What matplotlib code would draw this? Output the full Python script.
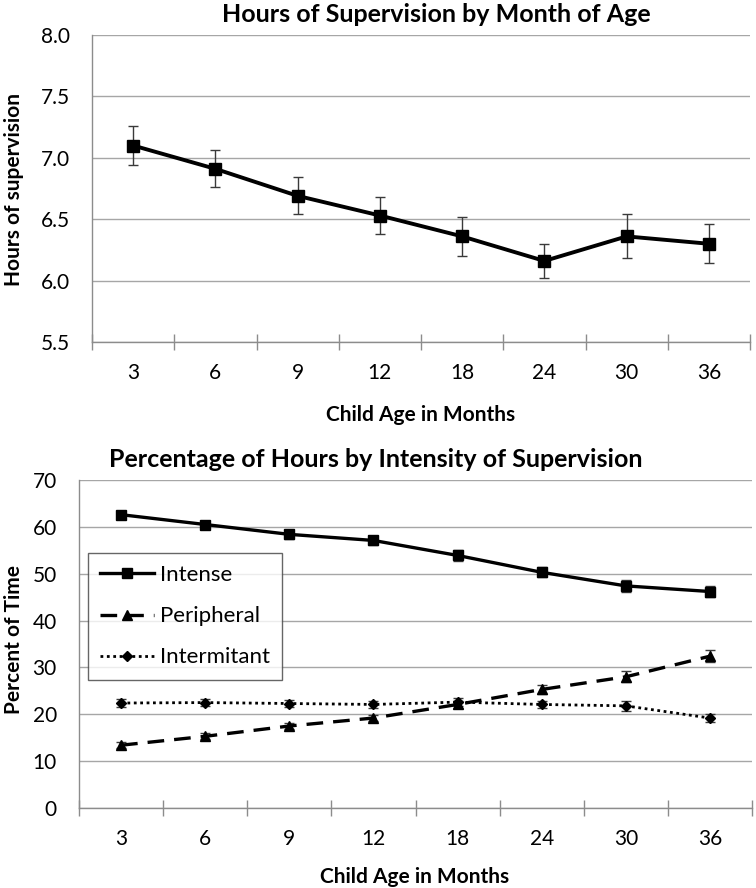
import matplotlib
matplotlib.use("Agg")
import matplotlib.pyplot as plt
from matplotlib.ticker import FixedLocator, NullFormatter
import numpy as np

plt.rcParams['font.family'] = ['Lato', 'DejaVu Sans']

ages = ["3", "6", "9", "12", "18", "24", "30", "36"]

# top panel: hours of supervision
hours = [7.10, 6.91, 6.69, 6.53, 6.36, 6.16, 6.36, 6.30]
hours_err = [0.16, 0.15, 0.15, 0.15, 0.16, 0.14, 0.18, 0.16]

# bottom panel: percent of time by intensity
intense = [62.6, 60.5, 58.4, 57.1, 53.9, 50.3, 47.4, 46.2]
intense_err = [0.8, 0.8, 1.0, 0.9, 1.1, 1.1, 1.2, 1.2]
peripheral = [13.4, 15.3, 17.5, 19.2, 22.1, 25.3, 28.0, 32.4]
peripheral_err = [0.6, 0.6, 0.7, 0.7, 0.8, 1.0, 1.2, 1.3]
intermitant = [22.4, 22.5, 22.3, 22.1, 22.6, 22.1, 21.8, 19.2]
intermitant_err = [0.8, 0.8, 0.8, 0.8, 0.9, 0.8, 1.0, 0.8]

axis_grey = '#8c8c8c'
grid_grey = '#a6a6a6'
err_grey = '#3a3a3a'

W, H = 756, 888


def style_axes(ax, ymin, ymax, ystep, fmt):
    x = np.arange(len(ages))
    ax.set_xlim(-0.5, len(ages) - 0.5)
    ax.set_ylim(ymin, ymax)
    ax.set_xticks(x)
    ax.set_xticklabels(ages, fontsize=15)
    ax.tick_params(axis='x', which='major', length=0, pad=15)
    ax.xaxis.set_minor_locator(FixedLocator(np.arange(-0.5, len(ages), 1.0)))
    ax.xaxis.set_minor_formatter(NullFormatter())
    ax.tick_params(axis='x', which='minor', direction='inout', length=11,
                   color=axis_grey, width=1)
    yt = np.arange(ymin, ymax + ystep / 2, ystep)
    ax.set_yticks(yt)
    ax.set_yticklabels([fmt.format(v) for v in yt], fontsize=15)
    ax.tick_params(axis='y', length=0, pad=16)
    ax.grid(axis='y', color=grid_grey, linewidth=1)
    ax.set_axisbelow(True)
    for side in ['top', 'right']:
        ax.spines[side].set_visible(False)
    for side in ['left', 'bottom']:
        ax.spines[side].set_color(axis_grey)
        ax.spines[side].set_linewidth(1)


def box(left, top, right, bottom):
    # pixel box -> figure fraction
    return [left / W, 1 - bottom / H, (right - left) / W, (bottom - top) / H]


fig = plt.figure(figsize=(W / 100, H / 100), dpi=100)
x = np.arange(len(ages))

# ---- top chart
ax1 = fig.add_axes(box(92, 35, 750, 342))
style_axes(ax1, 5.5, 8.0, 0.5, "{:.1f}")
ax1.errorbar(x, hours, yerr=hours_err, fmt='none', ecolor=err_grey,
             elinewidth=1, capsize=3.5, capthick=1, zorder=2)
ax1.plot(x, hours, color='black', linewidth=2.8, marker='s',
         markersize=8, zorder=3)
fig.text(14 / W, 1 - 190 / H, "Hours of supervision", fontsize=15,
         fontweight='bold', rotation=90, ha='center', va='center')
fig.text(421 / W, 1 - 415 / H, "Child Age in Months", fontsize=15,
         fontweight='bold', ha='center', va='center')
fig.text(436 / W, 1 - 15 / H, "Hours of Supervision by Month of Age",
         fontsize=18, fontweight='bold', ha='center', va='center')

# ---- bottom chart
ax2 = fig.add_axes(box(79, 480, 752, 808))
style_axes(ax2, 0, 70, 10, "{:.0f}")
for vals, errs in [(intense, intense_err), (peripheral, peripheral_err),
                   (intermitant, intermitant_err)]:
    ax2.errorbar(x, vals, yerr=errs, fmt='none', ecolor=err_grey,
                 elinewidth=1, capsize=3.5, capthick=1, zorder=2)
ax2.plot(x, intense, color='black', linewidth=2.4, marker='s',
         markersize=6.5, label='Intense', zorder=3)
ax2.plot(x, peripheral, color='black', linewidth=2.4, linestyle=(0, (5, 3)),
         marker='^', markersize=7, label='Peripheral', zorder=3)
ax2.plot(x, intermitant, color='black', linewidth=2.0, linestyle=(0, (1, 1.3)),
         marker='D', markersize=5, label='Intermitant', zorder=3)
fig.text(14 / W, 1 - 640 / H, "Percent of Time", fontsize=15,
         fontweight='bold', rotation=90, ha='center', va='center')
fig.text(415 / W, 1 - 877 / H, "Child Age in Months", fontsize=15,
         fontweight='bold', ha='center', va='center')
fig.text(376 / W, 1 - 459 / H, "Percentage of Hours by Intensity of Supervision",
         fontsize=18, fontweight='bold', ha='center', va='center')

leg = ax2.legend(loc='upper left', bbox_to_anchor=(88 / W, 1 - 553 / H),
                 bbox_transform=fig.transFigure, borderaxespad=0, fontsize=16,
                 frameon=True, fancybox=False, edgecolor='#404040',
                 handlelength=2.4, borderpad=0.55, labelspacing=0.95,
                 handletextpad=0.3)
leg.get_frame().set_linewidth(1)

fig.savefig("out.png", dpi=100, facecolor='white')
